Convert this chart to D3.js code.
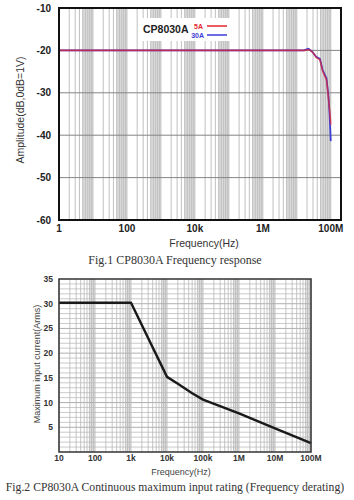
<!DOCTYPE html>
<html>
<head>
<meta charset="utf-8">
<script src="https://cdn.jsdelivr.net/npm/d3@7"></script>
<style>
  body { margin: 0; background: #fff; }
  svg { display: block; }
</style>
</head>
<body>
<svg id="chart" width="354" height="500"></svg>
<script>
// ---- Fig.1 frequency response ----
var respTickFreq = [1, 100, 1e4, 1e6, 1e8];
var respTickLabel = ["1", "100", "10k", "1M", "100M"];
var ampTicks = [-10, -20, -30, -40, -50, -60];

var resp30AFreq = [1, 1.6e7, 2.2e7, 2.8e7, 3.7e7, 4.8e7, 5.7e7, 7.5e7, 8.6e7, 9.2e7, 1e8];
var resp30AAmp  = [-20, -20, -19.6, -20.2, -21.5, -22.0, -24.5, -26.6, -31, -35, -41.4];
var resp5AFreq  = [1, 1.8e7, 2.3e7, 3.0e7, 3.8e7, 4.8e7, 5.7e7, 7.5e7, 8.6e7, 9.5e7, 1e8];
var resp5AAmp   = [-20, -20, -19.8, -20.5, -21.7, -22.2, -24.8, -27.0, -31.5, -35, -37.5];

// ---- Fig.2 frequency derating ----
var derTickFreq = [10, 100, 1e3, 1e4, 1e5, 1e6, 1e7, 1e8];
var derTickLabel = ["10", "100", "1k", "10k", "100k", "1M", "10M", "100M"];
var currentTicks = [5, 10, 15, 20, 25, 30, 35];
var derFreq    = [10, 1e3, 1e4, 2e4, 5e4, 1e5, 1e6, 1e7, 1e8];
var derCurrent = [30.2, 30.2, 15.2, 13.8, 11.9, 10.6, 7.8, 4.8, 1.8];

var svg = d3.select("#chart");

// log minor values k*10^d inside a domain
function minorVals(lo, hi, ks){
	var out = [];
	for(var d = Math.floor(Math.log10(lo)); d <= Math.ceil(Math.log10(hi)); d++){
		ks.forEach(function(k){
			var v = k * Math.pow(10, d);
			if(v >= lo && v <= hi) out.push(v);
		});
	}
	return out;
}

// ================= chart 1 =================
var x1 = d3.scaleLog().domain([1, 2e8]).range([59, 341]);
var y1 = d3.scaleLinear().domain([-60, -10]).range([220, 8]);

var g1 = svg.append("g");

// gray bands 5..10 of each decade
g1.selectAll("rect.band")
	.data(minorVals(1, 2e8, [5]))
	.enter().append("rect")
	.attr("x", function(d){return x1(d);})
	.attr("y", y1(-10))
	.attr("width", function(d){return Math.min(x1(d*2), x1(2e8)) - x1(d);})
	.attr("height", y1(-60) - y1(-10))
	.attr("fill", "#dadada");

g1.selectAll("line.minor")
	.data(minorVals(1, 2e8, [1, 2, 3, 4, 5, 6, 7, 8, 9]))
	.enter().append("line")
	.attr("x1", function(d){return x1(d);})
	.attr("x2", function(d){return x1(d);})
	.attr("y1", y1(-10)).attr("y2", y1(-60))
	.attr("stroke", "#c0c0c0").attr("stroke-width", 1);

g1.selectAll("line.hgrid")
	.data(ampTicks.slice(1, -1))
	.enter().append("line")
	.attr("x1", x1(1)).attr("x2", x1(2e8))
	.attr("y1", function(d){return y1(d);})
	.attr("y2", function(d){return y1(d);})
	.attr("stroke", "#858585").attr("stroke-width", 1);

// legend box
var leg = g1.append("g");
leg.append("rect").attr("x", 140).attr("y", 18).attr("width", 92).attr("height", 23).attr("fill", "#fff");
leg.append("text").attr("x", 143).attr("y", 33)
	.attr("font-family", "Liberation Sans, Arial, sans-serif").attr("font-weight", "bold")
	.attr("font-size", 10.5).attr("fill", "#222").text("CP8030A");
leg.append("text").attr("x", 203).attr("y", 28.5).attr("text-anchor", "end")
	.attr("font-family", "Liberation Sans, Arial, sans-serif").attr("font-weight", "bold")
	.attr("font-size", 7).attr("fill", "#e5262d").text("5A");
leg.append("text").attr("x", 204).attr("y", 37.5).attr("text-anchor", "end")
	.attr("font-family", "Liberation Sans, Arial, sans-serif").attr("font-weight", "bold")
	.attr("font-size", 7).attr("fill", "#3b3bd6").text("30A");
leg.append("line").attr("x1", 207).attr("x2", 227).attr("y1", 26).attr("y2", 26)
	.attr("stroke", "#e5262d").attr("stroke-width", 1.5);
leg.append("line").attr("x1", 207).attr("x2", 227).attr("y1", 35).attr("y2", 35)
	.attr("stroke", "#3b3bd6").attr("stroke-width", 1.5);

var line1 = d3.line()
	.x(function(d){return x1(d[0]);})
	.y(function(d){return y1(d[1]);});

g1.append("path")
	.attr("d", line1(d3.zip(resp30AFreq, resp30AAmp)))
	.attr("fill", "none").attr("stroke", "#3b3bd6").attr("stroke-width", 1.7);
g1.append("path")
	.attr("d", line1(d3.zip(resp5AFreq, resp5AAmp)))
	.attr("fill", "none").attr("stroke", "#e5262d").attr("stroke-width", 1.6)
	.attr("stroke-opacity", 0.7);

g1.append("rect")
	.attr("x", x1(1)).attr("y", y1(-10))
	.attr("width", x1(2e8) - x1(1)).attr("height", y1(-60) - y1(-10))
	.attr("fill", "none").attr("stroke", "#111").attr("stroke-width", 2);

g1.selectAll("text.ytick")
	.data(ampTicks)
	.enter().append("text")
	.attr("x", 51).attr("y", function(d){return y1(d) + 3.5;})
	.attr("text-anchor", "end")
	.attr("font-family", "Liberation Sans, Arial, sans-serif").attr("font-weight", "bold")
	.attr("font-size", 10).attr("fill", "#222")
	.text(function(d){return d;});

g1.selectAll("text.xtick")
	.data(respTickFreq)
	.enter().append("text")
	.attr("x", function(d){return x1(d);}).attr("y", 232)
	.attr("text-anchor", "middle")
	.attr("font-family", "Liberation Sans, Arial, sans-serif").attr("font-weight", "bold")
	.attr("font-size", 10).attr("fill", "#222")
	.text(function(d, i){return respTickLabel[i];});

g1.append("text").attr("x", 204).attr("y", 247).attr("text-anchor", "middle")
	.attr("font-family", "Liberation Sans, Arial, sans-serif").attr("font-size", 10.5)
	.attr("fill", "#333").text("Frequency(Hz)");

g1.append("text").attr("transform", "translate(24,110) rotate(-90)")
	.attr("text-anchor", "middle")
	.attr("font-family", "Liberation Sans, Arial, sans-serif").attr("font-size", 10.5)
	.attr("fill", "#333").text("Amplitude(dB,0dB=1V)");

g1.append("text").attr("x", 175).attr("y", 264).attr("text-anchor", "middle")
	.attr("font-family", "Liberation Serif, Times New Roman, serif").attr("font-size", 12)
	.attr("fill", "#333").text("Fig.1 CP8030A Frequency response");

// ================= chart 2 =================
var x2 = d3.scaleLog().domain([10, 1e8]).range([59, 311]);
var y2 = d3.scaleLinear().domain([0, 35]).range([452, 279]);

var g2 = svg.append("g");

g2.selectAll("rect.band")
	.data(minorVals(10, 1e8, [7]))
	.enter().append("rect")
	.attr("x", function(d){return x2(d);})
	.attr("y", y2(35))
	.attr("width", function(d){return x2(d / 7 * 10) - x2(d);})
	.attr("height", y2(0) - y2(35))
	.attr("fill", "#e0e0e0");

g2.selectAll("line.hminor")
	.data(d3.range(1, 35))
	.enter().append("line")
	.attr("x1", x2(10)).attr("x2", x2(1e8))
	.attr("y1", function(d){return y2(d);})
	.attr("y2", function(d){return y2(d);})
	.attr("stroke", function(d){return d % 5 === 0 ? "#9a9a9a" : "#bdbdbd";})
	.attr("stroke-width", 0.8);

g2.selectAll("line.vminor")
	.data(minorVals(10, 1e8, [1, 2, 3, 4, 5, 6, 7, 8, 9]))
	.enter().append("line")
	.attr("x1", function(d){return x2(d);})
	.attr("x2", function(d){return x2(d);})
	.attr("y1", y2(0)).attr("y2", y2(35))
	.attr("stroke", "#b8b8b8").attr("stroke-width", 0.8);

var line2 = d3.line()
	.x(function(d){return x2(d[0]);})
	.y(function(d){return y2(d[1]);});

g2.append("path")
	.attr("d", line2(d3.zip(derFreq, derCurrent)))
	.attr("fill", "none").attr("stroke", "#1a1a1a").attr("stroke-width", 2.4)
	.attr("stroke-linejoin", "round");

g2.append("rect")
	.attr("x", x2(10)).attr("y", y2(35))
	.attr("width", x2(1e8) - x2(10)).attr("height", y2(0) - y2(35))
	.attr("fill", "none").attr("stroke", "#333").attr("stroke-width", 1.5);

g2.selectAll("text.ytick")
	.data(currentTicks)
	.enter().append("text")
	.attr("x", 53).attr("y", function(d){return y2(d) + 3;})
	.attr("text-anchor", "end")
	.attr("font-family", "Liberation Sans Narrow, Liberation Sans, Arial, sans-serif").attr("font-weight", "bold")
	.attr("font-size", 8.5).attr("fill", "#333")
	.text(function(d){return d;});

g2.selectAll("text.xtick")
	.data(derTickFreq)
	.enter().append("text")
	.attr("x", function(d){return x2(d);}).attr("y", 461)
	.attr("text-anchor", "middle")
	.attr("font-family", "Liberation Sans Narrow, Liberation Sans, Arial, sans-serif").attr("font-weight", "bold")
	.attr("font-size", 8.5).attr("fill", "#333")
	.text(function(d, i){return derTickLabel[i];});

g2.append("text").attr("x", 181).attr("y", 475).attr("text-anchor", "middle")
	.attr("font-family", "Liberation Sans Narrow, Liberation Sans, Arial, sans-serif").attr("font-size", 9)
	.attr("fill", "#444").text("Frequency(Hz)");

g2.append("text").attr("transform", "translate(40,364) rotate(-90)")
	.attr("text-anchor", "middle")
	.attr("font-family", "Liberation Sans Narrow, Liberation Sans, Arial, sans-serif").attr("font-size", 9)
	.attr("fill", "#444").text("Maximum input current(Arms)");

g2.append("text").attr("x", 175).attr("y", 491).attr("text-anchor", "middle")
	.attr("font-family", "Liberation Serif, Times New Roman, serif").attr("font-size", 11.7)
	.attr("fill", "#333").text("Fig.2 CP8030A Continuous maximum input rating (Frequency derating)");
</script>
</body>
</html>
